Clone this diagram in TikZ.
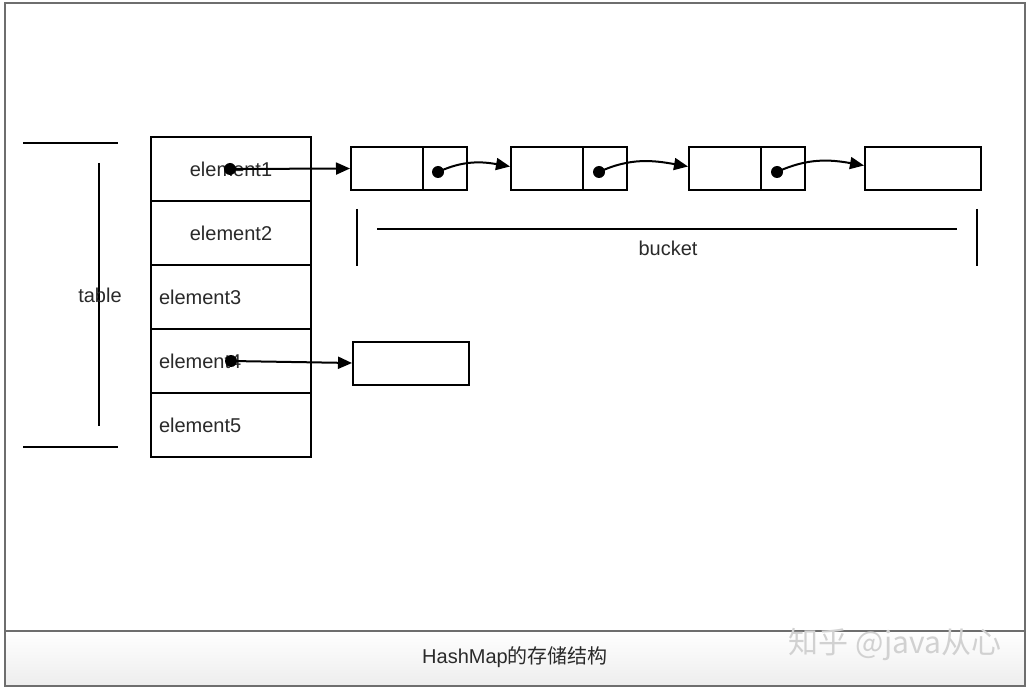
\documentclass[tikz,border=0pt]{standalone}
\usepackage{fontspec}
\setmainfont{Liberation Sans}
\newfontfamily\cjk{Noto Sans CJK SC}
\usetikzlibrary{arrows.meta}
\definecolor{txt}{HTML}{2A2A2A}
\definecolor{frame}{HTML}{6E6E6E}
\tikzset{
  lbl/.style={text=txt,font=\fontsize{20}{24}\selectfont,inner sep=0pt},
  cell/.style={draw,line width=2pt,minimum width=160pt,minimum height=64pt,inner sep=0pt,lbl},
  lcell/.style={cell,text width=144pt,inner xsep=8pt,align=left},
  keybox/.style={draw,line width=2pt,minimum width=72pt,minimum height=43pt,inner sep=0pt},
  ptrbox/.style={draw,line width=2pt,minimum width=44pt,minimum height=43pt,inner sep=0pt},
  endbox/.style={draw,line width=2pt,minimum width=116pt,minimum height=43pt,inner sep=0pt},
  dot/.style={circle,fill=black,inner sep=0pt,minimum size=12pt},
  link/.style={line width=2pt,-{Triangle[length=14pt,width=12pt]}},
  bar/.style={line width=2.6pt}
}
\begin{document}
\begin{tikzpicture}[x=1pt,y=-1pt]
\useasboundingbox (0,0) rectangle (1032,692);
\fill[white] (0,0) rectangle (1032,692);
% caption bar
\shade[top color=white,bottom color=black!7] (5,631) rectangle (1025,686);
\draw[frame,line width=2.5pt] (5,3) rectangle (1025,686);
\draw[frame,line width=2.5pt] (5,631) -- (1025,631);
\node[lbl] (cap) at (515,657) {HashMap{\cjk 的存储结构}};
\node[text=black!18,font=\cjk\fontsize{30}{34}\selectfont,inner sep=0pt] (wm) at (895,645) {知乎 @java从心};

% table brace
\draw[bar] (23,143) -- (118,143);
\draw[bar] (23,447) -- (118,447);
\draw[bar] (99,163) -- (99,426);
\node[lbl] (tablelbl) at (100,295) {table};

% table cells
\node[cell] (r1) at (231,169) {element1};
\node[cell] (r2) at (231,233) {element2};
\node[lcell] (r3) at (231,297) {element3};
\node[lcell] (r4) at (231,361) {element4};
\node[lcell] (r5) at (231,425) {element5};

% bucket list
\node[keybox] (k1) at (387,168.5) {};
\node[ptrbox] (p1) at (445,168.5) {};
\node[keybox] (k2) at (547,168.5) {};
\node[ptrbox] (p2) at (605,168.5) {};
\node[keybox] (k3) at (725,168.5) {};
\node[ptrbox] (p3) at (783,168.5) {};
\node[endbox] (k4) at (923,168.5) {};

\node[dot] (d0) at (230,169) {};
\node[dot] (d1) at (438,172) {};
\node[dot] (d2) at (599,172) {};
\node[dot] (d3) at (777,172) {};

\draw[link] (d0.center) -- (k1.west);
\draw[link] (d1.center) to[out=25,in=170] ([yshift=2pt]k2.west);
\draw[link] (d2.center) to[out=25,in=170] ([yshift=2pt]k3.west);
\draw[link] (d3.center) to[out=25,in=170] ([yshift=3pt]k4.west);

% bucket brace
\draw[bar] (357,209) -- (357,266);
\draw[bar] (977,209) -- (977,266);
\draw[bar] (377,229) -- (957,229);
\node[lbl] (bucketlbl) at (668,248) {bucket};

% element4 chain
\node[endbox] (e4) at (411,363) {};
\node[dot] (d4) at (231,361) {};
\draw[link] (d4.center) -- (e4.west);
\end{tikzpicture}
\end{document}
